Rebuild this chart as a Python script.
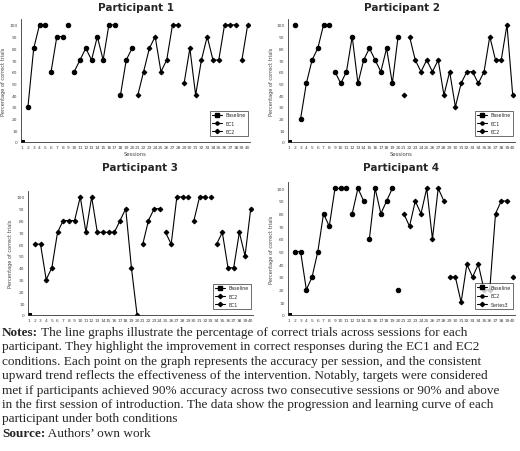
import numpy as np, pandas as pd, matplotlib
matplotlib.use("Agg")
import matplotlib.pyplot as plt, seaborn as sns
from matplotlib.lines import Line2D

sns.set_style("white")
plt.rcParams['font.family'] = ['DejaVu Sans']
sessions = list(range(1, 41))
p1_vals = [0,30,80,100,100,60,90,90,100,60,70,80,70,90,70,100,100,40,70,80,
           40,60,80,90,60,70,100,100,50,80,40,70,90,70,70,100,100,100,70,100]
p1_seg = [0,1,1,1,1,2,2,2,3,4,4,4,4,4,4,4,4,5,5,5,6,6,6,6,6,6,6,6,7,7,7,7,7,7,7,7,7,7,8,8]
p1_ser = ["Baseline"]+["EC1"]*19+["EC2"]*20
p2_vals = [0,100,20,50,70,80,100,100,60,50,60,90,50,70,80,70,60,80,50,90,
           40,90,70,60,70,60,70,40,60,30,50,60,60,50,60,90,70,70,100,40]
p2_seg = [0,1]+[2]*6+[3]*12+[4]+[5]*19
p2_ser = ["Baseline"]+["EC1"]*19+["EC2"]*20
p3_vals = [0,60,60,30,40,70,80,80,80,100,70,100,70,70,70,70,80,90,40,0,
           60,80,90,90,70,60,100,100,100,80,100,100,100,60,70,40,40,70,50,90]
p3_seg = [0]+[1]*19+[2]*4+[3]*4+[4]+[5]*3+[6]+[7]*7
p3_ser = ["Baseline"]+["EC1"]*19+["EC2"]*20
p4_vals = [0,50,50,20,30,50,80,70,100,100,100,80,100,90,60,100,80,90,100,20,
           80,70,90,80,100,60,100,90,30,30,10,40,30,40,20,20,80,90,90,30]
p4_seg = [0]+[1]*10+[2]*3+[3]*5+[4]+[5]*8+[6]*11+[7]
p4_ser = ["Baseline"]+["EC2"]*19+["Series3"]*20

titles = ["Participant 1","Participant 2","Participant 3","Participant 4"]
legends = [["Baseline","EC1","EC2"],["Baseline","EC1","EC2"],["Baseline","EC2","EC1"],["Baseline","EC2","Series3"]]
data = [(p1_vals,p1_seg,p1_ser),(p2_vals,p2_seg,p2_ser),(p3_vals,p3_seg,p3_ser),(p4_vals,p4_seg,p4_ser)]
markers = [{"Baseline":"s","EC1":"o","EC2":"D"},{"Baseline":"s","EC1":"o","EC2":"D"},
           {"Baseline":"s","EC1":"D","EC2":"D"},{"Baseline":"s","EC2":"o","Series3":"D"}]
msize = {"s":3.2,"o":3.2,"D":2.4}

W, H = 520, 452
fig = plt.figure(figsize=(5.2, 4.52), dpi=100)
boxes = [(21,20,250,143),(288,20,515,143),(28,192,253,316),(288,183,515,316)]
title_y = [8,8,168,168]
for i,(vals,seg,ser) in enumerate(data):
    x0,y0,x1,y1 = boxes[i]
    ax = fig.add_axes([x0/W, 1-y1/H, (x1-x0)/W, (y1-y0)/H])
    df = pd.DataFrame({"s":sessions,"v":vals,"seg":seg,"ser":ser})
    for name in dict.fromkeys(ser):
        sub = df[df.ser==name]
        m = markers[i][name]
        sns.lineplot(data=sub, x="s", y="v", units="seg", estimator=None, ax=ax,
                     color="black", lw=0.8, marker=m, markersize=msize[m],
                     markeredgecolor="black", legend=False)
    ax.set_xlim(0.8, 40.4); ax.set_ylim(0, 105)
    ax.set_yticks(range(0,101,10)); ax.set_xticks(sessions)
    ax.tick_params(labelsize=3.2, colors="#444", length=1.5, width=0.4, pad=1)
    for s in ["top","right"]: ax.spines[s].set_visible(False)
    for s in ["left","bottom"]: ax.spines[s].set_linewidth(0.6); ax.spines[s].set_color("#333")
    ax.set_xlabel("Sessions" if i<2 else "", fontsize=3.8, color="#444", labelpad=1)
    ax.set_ylabel("Percentage of correct trials", fontsize=3.6, color="#444", labelpad=2)
    fig.text((x0+x1)/2/W, 1-title_y[i]/H, titles[i], ha="center", va="center", fontsize=7.5, weight="bold")
    hs = [Line2D([],[],color="black",lw=0.8,marker=markers[i].get(n,"D"),markersize=2.2) for n in legends[i]]
    leg = ax.legend(hs, legends[i], loc="lower right", fontsize=3.4, frameon=True, fancybox=False,
                    edgecolor="black", handlelength=2.0, borderpad=0.4, labelspacing=0.7,
                    bbox_to_anchor=(1.0, 0.03))
    leg.get_frame().set_linewidth(0.5)

lines = [
 ("Notes:", " The line graphs illustrate the percentage of correct trials across sessions for each"),
 ("", "participant. They highlight the improvement in correct responses during the EC1 and EC2"),
 ("", "conditions. Each point on the graph represents the accuracy per session, and the consistent"),
 ("", "upward trend reflects the effectiveness of the intervention. Notably, targets were considered"),
 ("", "met if participants achieved 90% accuracy across two consecutive sessions or 90% and above"),
 ("", "in the first session of introduction. The data show the progression and learning curve of each"),
 ("", "participant under both conditions"),
 ("Source:", " Authors\u2019 own work"),
]
fs = 9.5
for k,(b,t) in enumerate(lines):
    y = 1-(333+k*14.4)/H
    x = 2/W
    if b:
        tb = fig.text(x, y, b, fontsize=fs, weight="bold", family="Liberation Serif", va="center")
        fig.canvas.draw()
        bb = tb.get_window_extent()
        x = bb.x1/fig.bbox.width
    fig.text(x, y, t, fontsize=fs, family="Liberation Serif", va="center")
fig.savefig("out.png", dpi=100)
